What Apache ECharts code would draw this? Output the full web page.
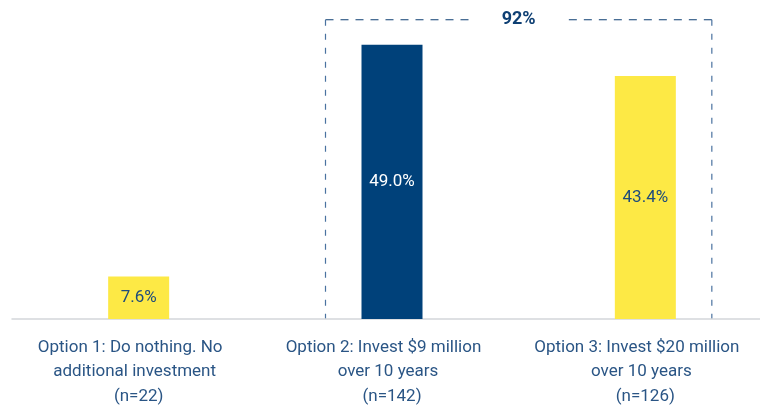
<!DOCTYPE html>
<html>
<head>
<meta charset="utf-8">
<script src="https://cdn.jsdelivr.net/npm/echarts@6/dist/echarts.min.js"></script>
<style>
  html, body { margin: 0; padding: 0; background: #ffffff; }
  #chart { width: 760px; height: 407px; }
</style>
</head>
<body>
<div id="chart"></div>
<script>
// Survey options and share of respondents choosing each one
const categories = [
  'Option 1: Do nothing. No\nadditional investment\n(n=22)',
  'Option 2: Invest $9 million\nover 10 years\n(n=142)',
  'Option 3: Invest $20 million\nover 10 years\n(n=126)'
];
const shares = [7.6, 49.0, 43.4];
const barColors = ['#FDE945', '#00417A', '#FDE945'];
const labelColors = ['#1E4C7C', '#FFFFFF', '#1E4C7C'];
// Options grouped under the combined-total bracket
const groupedIndices = [1, 2];

const NAVY = '#0E3F73';
const LABEL_BLUE = '#2A5585';
const chart = echarts.init(document.getElementById('chart'));

// Category label lines: upper lines sit slightly left of the bar centre
const lineStyle = pad => ({
  color: LABEL_BLUE, fontFamily: 'Roboto', fontSize: 17, lineHeight: 24.5,
  padding: [0, pad, 0, 0]
});

const option = {
  animation: false,
  grid: { left: 12, right: -12, top: 0, bottom: 88, containLabel: false, outerBoundsMode: 'none' },
  xAxis: {
    type: 'category',
    data: categories,
    axisTick: { show: false },
    axisLine: { lineStyle: { color: '#D3D6DA', width: 1.5 } },
    axisLabel: {
      color: LABEL_BLUE,
      fontFamily: 'Roboto',
      fontSize: 17,
      lineHeight: 24.5,
      margin: 16,
      interval: 0,
      hideOverlap: false,
      formatter: v => v.split('\n').map((s, i) => '{l' + i + '|' + s + '}').join('\n'),
      rich: { l0: lineStyle(17), l1: lineStyle(8), l2: lineStyle(0) }
    }
  },
  yAxis: {
    type: 'value',
    min: 0,
    max: 57,
    show: false,
    splitLine: { show: false }
  },
  series: [{
    type: 'bar',
    barWidth: 61,
    data: shares.map((v, i) => ({
      value: v,
      itemStyle: { color: barColors[i] },
      label: { color: labelColors[i] }
    })),
    label: {
      show: true,
      position: 'inside',
      fontFamily: 'Roboto',
      fontSize: 17,
      formatter: p => p.value.toFixed(1) + '%'
    }
  }]
};
chart.setOption(option);

// Dashed bracket around the grouped options, with their combined share on top
function drawBracket() {
  const first = groupedIndices[0];
  const last = groupedIndices[groupedIndices.length - 1];
  const total = groupedIndices.reduce((s, i) => s + shares[i], 0);
  const pad = 66.5;
  const x0 = chart.convertToPixel({ xAxisIndex: 0 }, first) - pad;
  const x1 = chart.convertToPixel({ xAxisIndex: 0 }, last) + pad;
  const yBase = chart.convertToPixel({ yAxisIndex: 0 }, 0);
  const yTop = chart.convertToPixel({ yAxisIndex: 0 }, Math.max(...groupedIndices.map(i => shares[i]))) - 25;
  const xm = (x0 + x1) / 2;
  const gap = 47;
  const dash = { stroke: NAVY, lineWidth: 1.2, lineDash: [8, 7] };
  const vdash = { stroke: '#4A72A0', lineWidth: 1.2, lineDash: [6, 8] };
  chart.setOption({
    graphic: [
      { type: 'line', silent: true, shape: { x1: x0, y1: yTop, x2: xm - gap, y2: yTop }, style: dash },
      { type: 'line', silent: true, shape: { x1: x1, y1: yTop, x2: xm + gap, y2: yTop }, style: dash },
      { type: 'line', silent: true, shape: { x1: x0, y1: yTop, x2: x0, y2: yBase }, style: vdash },
      { type: 'line', silent: true, shape: { x1: x1, y1: yTop, x2: x1, y2: yBase }, style: vdash },
      {
        type: 'text', silent: true,
        x: xm, y: yTop,
        style: {
          text: Math.round(total) + '%',
          fill: NAVY,
          font: 'bold 18px Roboto',
          align: 'center',
          verticalAlign: 'middle'
        }
      }
    ]
  });
}
drawBracket();
</script>
</body>
</html>
